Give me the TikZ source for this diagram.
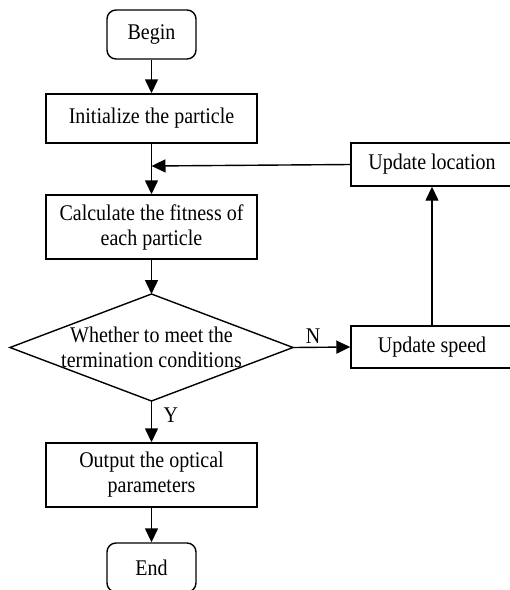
\documentclass[tikz,border=0pt]{standalone}
\usepackage{fontspec}
\usepackage{graphicx}
\setmainfont{Liberation Serif}
\usetikzlibrary{shapes.geometric,arrows.meta}
\newcommand{\vst}[1]{\scalebox{1}[1.12]{#1}}
\begin{document}
\begin{tikzpicture}[x=1pt,y=-1pt,
  every node/.style={font=\fontsize{20}{25}\selectfont},
  base/.style={draw,line width=1.4pt,inner sep=0pt,align=center},
  procbox/.style={base,rectangle,minimum width=211pt},
  termbox/.style={base,rectangle,rounded corners=9pt,minimum width=89pt,minimum height=49pt},
  sidebox/.style={base,rectangle,minimum width=162pt},
  arr/.style={line width=1.4pt,-{Triangle[length=14pt,width=13pt]}},
  lbl/.style={font=\fontsize{20}{25}\selectfont}]
\useasboundingbox (0,0) rectangle (510,590);
\clip (0,0) rectangle (510,590);
\node[termbox] (begin) at (151.5,34.5) {\vst{Begin}};
\node[procbox,minimum height=49pt] (init) at (151.5,118.5) {\vst{Initialize the particle}};
\node[procbox,minimum height=64pt] (calc) at (151.5,227) {\vst{Calculate the fitness of}\\\vst{each particle}};
\node[base,draw=none,minimum width=0pt] (dectext) at (151.5,347.5) {\vst{Whether to meet the}\\\vst{termination conditions}};
\path[draw,line width=1.4pt] (10,347.5) coordinate (decW) -- (151.5,294) coordinate (decN) -- (293,347.5) coordinate (decE) -- (151.5,401) coordinate (decS) -- cycle;
\node[procbox,minimum height=64pt] (out) at (151.5,475) {\vst{Output the optical}\\\vst{parameters}};
\node[termbox] (end) at (151.5,567.5) {\vst{End}};
\node[sidebox,minimum height=43pt] (loc) at (432,164.5) {\vst{Update location}};
\node[sidebox,minimum height=42pt] (speed) at (432,347) {\vst{Update speed}};
\coordinate (join) at (151.5,166);
\draw[arr] (begin) -- (init);
\draw[arr] (init) -- (calc);
\draw[arr] (calc) -- (decN);
\draw[arr] (decS) -- node[lbl,right,xshift=8pt,pos=0.35] {\vst{Y}} (out);
\draw[arr] (out) -- (end);
\draw[arr] (decE) -- node[lbl,above,pos=0.35] {\vst{N}} (speed.west);
\draw[arr] (speed) -- (loc);
\draw[arr] (loc.west) -- (join);
\end{tikzpicture}
\end{document}
